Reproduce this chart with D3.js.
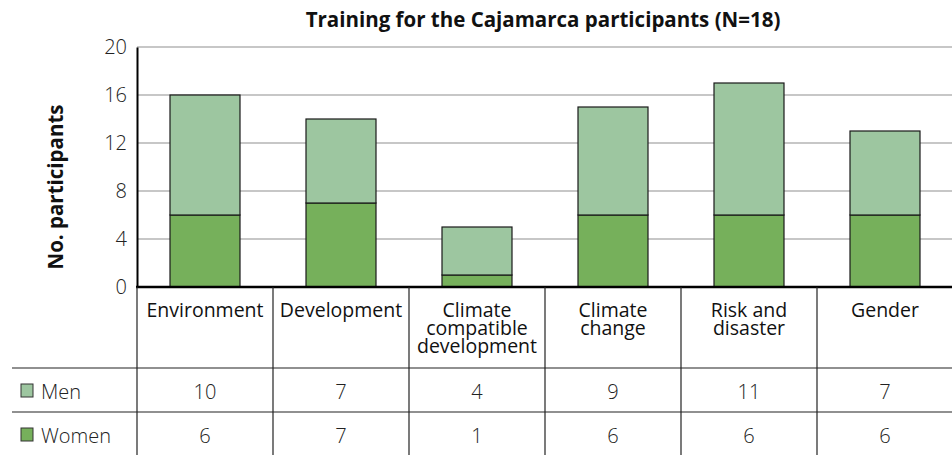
<!DOCTYPE html>
<html>
<head>
<meta charset="utf-8">
<script src="https://cdn.jsdelivr.net/npm/d3@7"></script>
<style>
  body { margin: 0; background: #fff; }
  text { font-family: "Open Sans", sans-serif; }
</style>
</head>
<body>
<div id="chart"></div>
<script>
// data
var categories = ["Environment", "Development", "Climate compatible development", "Climate change", "Risk and disaster", "Gender"];
var catLines = [["Environment"], ["Development"], ["Climate", "compatible", "development"], ["Climate", "change"], ["Risk and", "disaster"], ["Gender"]];
var men = [10, 7, 4, 9, 11, 7];
var women = [6, 7, 1, 6, 6, 6];
var yTicks = [0, 4, 8, 12, 16, 20];
var seriesNames = ["Men", "Women"];
var seriesColors = ["#9dc6a0", "#76b05b"];

var W = 952, H = 455;
var margin = {top: 47, left: 137, right: 0};
var plotBottom = 287;
var colWidth = 136;

var svg = d3.select("#chart")
  .append("svg")
    .attr("width", W)
    .attr("height", H);

// stacked data: women at bottom, men on top
var rows = categories.map(function(c, i) { return {cat: c, Women: women[i], Men: men[i]}; });
var stack = d3.stack().keys(["Women", "Men"])(rows);

var x = d3.scaleBand()
  .domain(categories)
  .range([margin.left, margin.left + colWidth * categories.length])
  .paddingInner(0)
  .paddingOuter(0);

var y = d3.scaleLinear()
  .domain([0, 20])
  .range([plotBottom, margin.top]);

// title
svg.append("text")
  .attr("x", 543)
  .attr("y", 27)
  .attr("text-anchor", "middle")
  .style("font-size", "20.5px")
  .style("font-weight", "bold")
  .style("fill", "#111")
  .text("Training for the Cajamarca participants (N=18)");

// gridlines
svg.append("g")
  .selectAll("line")
  .data(yTicks.filter(function(d) { return d > 0; }))
  .enter()
  .append("line")
    .attr("x1", margin.left)
    .attr("x2", W)
    .attr("y1", function(d) { return y(d); })
    .attr("y2", function(d) { return y(d); })
    .attr("stroke", "#b4b4b4")
    .attr("stroke-width", 1.5);

// Y axis
var yAxis = svg.append("g")
  .attr("transform", "translate(" + margin.left + ",0)")
  .call(d3.axisLeft(y).tickValues(yTicks).tickSize(0).tickPadding(10));
yAxis.select(".domain").attr("stroke", "#000").attr("stroke-width", 2);
yAxis.selectAll("text")
  .style("font-size", "20px")
  .style("font-weight", 300)
  .style("font-family", "Open Sans, sans-serif")
  .style("fill", "#222");

// Y axis label
svg.append("text")
  .attr("transform", "rotate(-90)")
  .attr("x", -187)
  .attr("y", 63)
  .attr("text-anchor", "middle")
  .style("font-size", "20.5px")
  .style("font-weight", "bold")
  .style("fill", "#111")
  .text("No. participants");

// bars
var barW = 70;
svg.append("g")
  .selectAll("g")
  .data(stack)
  .enter()
  .append("g")
    .attr("fill", function(d) { return d.key === "Men" ? seriesColors[0] : seriesColors[1]; })
  .selectAll("rect")
  .data(function(d) { return d; })
  .enter()
  .append("rect")
    .attr("x", function(d) { return x(d.data.cat) + (x.bandwidth() - barW) / 2; })
    .attr("y", function(d) { return y(d[1]); })
    .attr("width", barW)
    .attr("height", function(d) { return y(d[0]) - y(d[1]); })
    .attr("stroke", "#1a1a1a")
    .attr("stroke-width", 1.2);

// bottom axis line
svg.append("line")
  .attr("x1", margin.left - 1)
  .attr("x2", W)
  .attr("y1", plotBottom)
  .attr("y2", plotBottom)
  .attr("stroke", "#000")
  .attr("stroke-width", 2.5);

// data table
var rowLines = [368, 412];
var rowMid = [399, 443];
var table = svg.append("g");

table.selectAll(".hline")
  .data(rowLines)
  .enter()
  .append("line")
    .attr("x1", 12)
    .attr("x2", W)
    .attr("y1", function(d) { return d; })
    .attr("y2", function(d) { return d; })
    .attr("stroke", "#222")
    .attr("stroke-width", 1.2);

// vertical separators
var seps = categories.map(function(c) { return x(c); });
table.selectAll(".vline")
  .data(seps)
  .enter()
  .append("line")
    .attr("x1", function(d) { return d; })
    .attr("x2", function(d) { return d; })
    .attr("y1", plotBottom)
    .attr("y2", H)
    .attr("stroke", "#222")
    .attr("stroke-width", 1.2);

// category headers
table.selectAll(".cat")
  .data(catLines)
  .enter()
  .append("text")
    .attr("text-anchor", "middle")
    .style("font-size", "19.5px")
    .style("fill", "#111")
    .each(function(lines, i) {
      var t = d3.select(this);
      lines.forEach(function(l, j) {
        t.append("tspan")
          .attr("x", x(categories[i]) + x.bandwidth() / 2)
          .attr("y", 317 + j * 18)
          .text(l);
      });
    });

// legend + values
[men, women].forEach(function(vals, r) {
  table.append("rect")
    .attr("x", 21)
    .attr("y", rowMid[r] - 15)
    .attr("width", 12)
    .attr("height", 13)
    .attr("fill", seriesColors[r])
    .attr("stroke", "#333")
    .attr("stroke-width", 1);
  table.append("text")
    .attr("x", 41)
    .attr("y", rowMid[r])
    .style("font-size", "20px")
    .style("font-weight", 300)
    .style("fill", "#222")
    .text(seriesNames[r]);
  table.selectAll(".v" + r)
    .data(vals)
    .enter()
    .append("text")
      .attr("x", function(d, i) { return x(categories[i]) + x.bandwidth() / 2; })
      .attr("y", rowMid[r])
      .attr("text-anchor", "middle")
      .style("font-size", "20px")
      .style("font-weight", 300)
      .style("fill", "#222")
      .text(function(d) { return d; });
});
</script>
</body>
</html>
